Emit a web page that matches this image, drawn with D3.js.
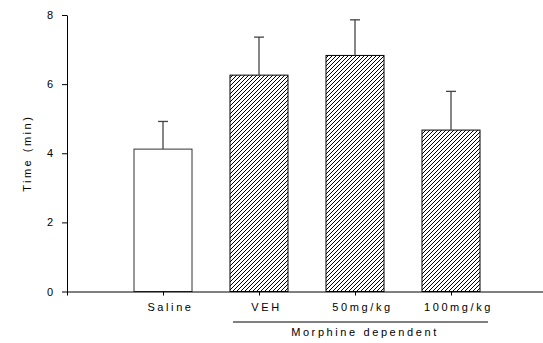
<!DOCTYPE html>
<html>
<head>
<meta charset="utf-8">
<script src="https://cdn.jsdelivr.net/npm/d3@7"></script>
<style>
	body { margin: 0; background: #fff; }
	svg { display: block; font-family: "Liberation Sans", Arial, sans-serif; }
</style>
</head>
<body>
<svg id="chart" width="543" height="343"></svg>
<script>
	// data
	var groups = ["Saline", "VEH", "50mg/kg", "100mg/kg"],
		means = [4.12, 6.26, 6.83, 4.67],
		sems = [0.80, 1.10, 1.03, 1.12],
		hatched = [false, true, true, true],
		yTicks = [0, 2, 4, 6, 8],
		bracket = { label: "Morphine dependent", from: 2, to: 4 }; // x positions of VEH .. 100mg/kg

	var svg = d3.select("#chart");

	var x = d3.scaleLinear().domain([0, 5]).range([67, 547]),
		y = d3.scaleLinear().domain([0, 8]).range([291.5, 15]),
		barW = 58;

	// hatch pattern
	svg.append("defs").append("pattern")
		.attr("id", "hatch")
		.attr("patternUnits", "userSpaceOnUse")
		.attr("width", 4).attr("height", 4)
		.append("path")
		.attr("d", "M-1,1 l2,-2 M0,4 l4,-4 M3,5 l2,-2")
		.attr("stroke", "#000")
		.attr("stroke-width", 1.0);

	// bars
	svg.selectAll("rect.bar")
		.data(means)
		.enter().append("rect")
		.attr("class", "bar")
		.attr("x", function(d, i) { return x(i + 1) - barW / 2; })
		.attr("y", function(d) { return y(d); })
		.attr("width", barW)
		.attr("height", function(d) { return y(0) - y(d); })
		.attr("fill", function(d, i) { return hatched[i] ? "url(#hatch)" : "#fff"; })
		.attr("stroke", function(d, i) { return hatched[i] ? "#000" : "#333"; })
		.attr("stroke-width", 1);

	// error bars (upper only)
	var err = svg.selectAll("g.err")
		.data(means)
		.enter().append("g")
		.attr("class", "err")
		.attr("stroke", "#444")
		.attr("stroke-width", 1.3);
	err.append("line")
		.attr("x1", function(d, i) { return x(i + 1); })
		.attr("x2", function(d, i) { return x(i + 1); })
		.attr("y1", function(d) { return y(d); })
		.attr("y2", function(d, i) { return y(d + sems[i]); });
	err.append("line")
		.attr("x1", function(d, i) { return x(i + 1) - 5; })
		.attr("x2", function(d, i) { return x(i + 1) + 5; })
		.attr("y1", function(d, i) { return y(d + sems[i]); })
		.attr("y2", function(d, i) { return y(d + sems[i]); });

	// y axis
	var yAxis = svg.append("g")
		.attr("transform", "translate(" + x(0) + ",0)")
		.call(d3.axisLeft(y).tickValues(yTicks).tickSize(5).tickSizeOuter(0).tickPadding(9));
	yAxis.selectAll("text").attr("font-size", 11).attr("fill", "#000").attr("font-family", null);

	// x axis
	var xAxis = svg.append("g")
		.attr("transform", "translate(0," + y(0) + ")")
		.call(d3.axisBottom(x).tickValues([0, 1, 2, 3, 4]).tickSize(4).tickSizeOuter(0).tickPadding(8)
			.tickFormat(function(i) { return groups[i - 1] || ""; }));
	xAxis.selectAll("text")
		.attr("font-size", 11).attr("fill", "#000").attr("font-family", null)
		.attr("dx", 7).style("letter-spacing", "2.6px");

	svg.selectAll(".domain, .tick line").attr("stroke", "#000");

	// y label
	svg.append("text")
		.attr("transform", "translate(31," + ((y(0) + y(8)) / 2) + ") rotate(-90)")
		.attr("text-anchor", "middle")
		.attr("font-size", 11)
		.style("letter-spacing", "2.5px")
		.text("Time (min)");

	// group bracket
	svg.append("line")
		.attr("x1", x(bracket.from) - 26).attr("x2", x(bracket.to) + 37)
		.attr("y1", 322).attr("y2", 322)
		.attr("stroke", "#000").attr("stroke-width", 1);
	svg.append("text")
		.attr("x", (x(bracket.from) + x(bracket.to)) / 2 + 10)
		.attr("y", 336)
		.attr("text-anchor", "middle")
		.attr("font-size", 11)
		.style("letter-spacing", "2.6px")
		.text(bracket.label);
</script>
</body>
</html>
